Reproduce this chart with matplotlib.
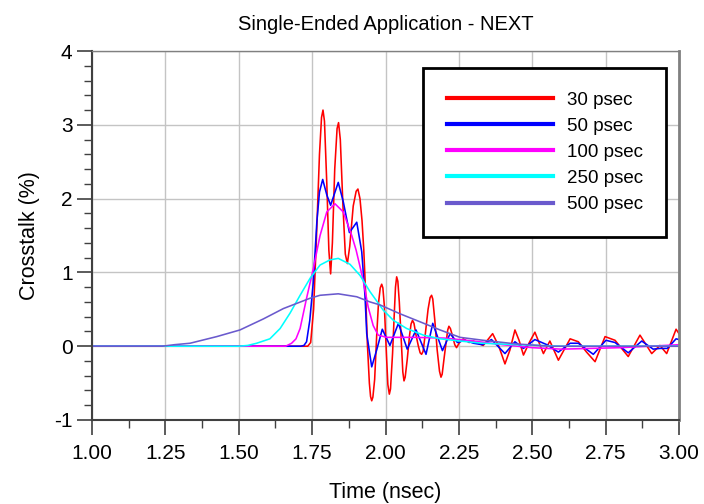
import matplotlib
matplotlib.use("Agg")
import matplotlib.pyplot as plt
from matplotlib.ticker import MultipleLocator

plt.rcParams['font.family'] = ['Liberation Sans', 'DejaVu Sans']
plt.rcParams['axes.unicode_minus'] = False

# crosstalk waveforms (time in nsec, crosstalk in %) for each rise time
t_30 = [1.00, 1.72, 1.735, 1.745, 1.755, 1.765, 1.775, 1.782, 1.787, 1.792, 1.800, 1.807,
        1.813, 1.819, 1.827, 1.835, 1.840, 1.846, 1.855, 1.863, 1.870, 1.878, 1.890, 1.900,
        1.906, 1.913, 1.920, 1.926, 1.932, 1.938, 1.945, 1.949, 1.953, 1.957, 1.963, 1.970,
        1.976, 1.982, 1.987, 1.991, 1.996, 2.003, 2.008, 2.013, 2.017, 2.024, 2.030, 2.034,
        2.038, 2.042, 2.047, 2.054, 2.059, 2.063, 2.067, 2.074, 2.082, 2.087, 2.092, 2.097,
        2.104, 2.112, 2.118, 2.123, 2.128, 2.136, 2.145, 2.152, 2.157, 2.161, 2.168, 2.176,
        2.184, 2.189, 2.193, 2.200, 2.208, 2.212, 2.216, 2.221, 2.229, 2.236, 2.242, 2.252,
        2.265, 2.285, 2.299, 2.333, 2.365, 2.386, 2.407, 2.424, 2.441, 2.455, 2.470, 2.490,
        2.509, 2.538, 2.560, 2.589, 2.629, 2.657, 2.685, 2.714, 2.748, 2.782, 2.827, 2.867,
        2.907, 2.935, 2.958, 2.990, 3.00]
x_30 = [0.00, 0.00, 0.00, 0.05, 0.50, 1.50, 2.60, 3.10, 3.20, 3.05, 2.20, 1.30,
        0.98, 1.40, 2.40, 2.95, 3.03, 2.80, 1.90, 1.25, 1.12, 1.35, 1.90, 2.10,
        2.13, 2.00, 1.70, 1.30, 0.75, 0.05, -0.50, -0.68, -0.74, -0.69, -0.45, 0.15,
        0.58, 0.79, 0.84, 0.79, 0.55, -0.10, -0.52, -0.65, -0.58, -0.10, 0.45, 0.80,
        0.94, 0.88, 0.60, 0.05, -0.35, -0.47, -0.42, -0.18, 0.15, 0.30, 0.35, 0.31,
        0.15, 0.00, -0.09, -0.11, -0.07, 0.18, 0.50, 0.66, 0.69, 0.64, 0.35, -0.05,
        -0.34, -0.42, -0.38, -0.15, 0.10, 0.22, 0.27, 0.24, 0.13, 0.02, -0.02, 0.05,
        0.10, 0.05, 0.07, 0.01, 0.17, 0.00, -0.24, -0.05, 0.22, 0.08, -0.12, 0.05,
        0.19, -0.10, 0.07, -0.19, 0.10, 0.06, -0.08, -0.21, 0.13, 0.08, -0.14, 0.15,
        -0.10, 0.01, -0.10, 0.23, 0.17]

t_50 = [1.00, 1.711, 1.722, 1.731, 1.742, 1.754, 1.766, 1.775, 1.786, 1.800, 1.813, 1.828,
        1.839, 1.856, 1.877, 1.902, 1.919, 1.930, 1.936, 1.953, 1.970, 1.989, 2.015, 2.044,
        2.074, 2.104, 2.138, 2.161, 2.194, 2.220, 2.245, 2.270, 2.300, 2.330, 2.361, 2.407,
        2.441, 2.470, 2.509, 2.550, 2.589, 2.629, 2.657, 2.708, 2.751, 2.782, 2.827, 2.873,
        2.912, 2.935, 2.960, 2.990, 3.00]
x_50 = [0.00, 0.00, 0.01, 0.06, 0.35, 0.87, 1.68, 2.09, 2.26, 2.05, 1.91, 2.09,
        2.22, 1.96, 1.54, 1.68, 1.28, 0.69, 0.17, -0.28, -0.05, 0.23, 0.01, 0.31,
        -0.04, 0.22, -0.11, 0.31, -0.06, 0.17, 0.05, 0.08, 0.04, 0.02, 0.09, -0.10,
        0.06, -0.03, 0.09, 0.02, -0.08, 0.04, 0.04, -0.11, 0.08, 0.05, -0.09, 0.07,
        -0.04, -0.03, -0.03, 0.10, 0.09]

t_100 = [1.00, 1.66, 1.680, 1.695, 1.709, 1.731, 1.754, 1.777, 1.800, 1.828, 1.856, 1.885,
         1.900, 1.913, 1.924, 1.941, 1.958, 1.975, 2.004, 2.10, 2.20, 2.30, 2.40, 2.50,
         2.60, 2.70, 2.80, 2.90, 3.00]
x_100 = [0.00, 0.00, 0.04, 0.10, 0.24, 0.65, 1.05, 1.50, 1.82, 1.93, 1.82, 1.50,
         1.30, 1.08, 0.89, 0.53, 0.28, 0.15, 0.12, 0.12, 0.11, 0.07, 0.02, -0.02,
         -0.04, -0.03, -0.02, 0.00, 0.02]

t_250 = [1.00, 1.50, 1.530, 1.561, 1.606, 1.641, 1.675, 1.709, 1.743, 1.777, 1.811, 1.839,
         1.879, 1.913, 1.947, 1.992, 2.027, 2.072, 2.129, 2.186, 2.254, 2.330, 2.450, 2.600,
         3.00]
x_250 = [0.00, 0.00, 0.01, 0.04, 0.10, 0.24, 0.45, 0.69, 0.92, 1.10, 1.17, 1.19,
         1.11, 0.96, 0.74, 0.49, 0.35, 0.24, 0.15, 0.10, 0.07, 0.04, 0.02, 0.00,
         0.00]

t_500 = [1.00, 1.24, 1.28, 1.334, 1.425, 1.504, 1.584, 1.652, 1.743, 1.777, 1.839, 1.902,
         1.947, 1.981, 2.049, 2.118, 2.186, 2.254, 2.333, 2.447, 2.560, 3.00]
x_500 = [0.00, 0.00, 0.02, 0.04, 0.13, 0.22, 0.37, 0.51, 0.65, 0.69, 0.71, 0.67,
         0.60, 0.56, 0.44, 0.33, 0.22, 0.12, 0.08, 0.03, 0.00, 0.00]

labels = ['30 psec', '50 psec', '100 psec', '250 psec', '500 psec']
colors = ['#ff0000', '#0000ff', '#ff00ff', '#00ffff', '#6a5acd']

fig = plt.figure(figsize=(7.04, 5.04), dpi=100)
ax = fig.add_axes([0.1307, 0.1667, 0.8338, 0.732])

series = [(t_30, x_30), (t_50, x_50), (t_100, x_100), (t_250, x_250), (t_500, x_500)]
for (t, x), lab, c in zip(series, labels, colors):
    ax.plot(t, x, color=c, lw=1.15, label=lab)

ax.set_xlim(1.0, 3.0)
ax.set_ylim(-1, 4)
ax.xaxis.set_major_locator(MultipleLocator(0.25))
ax.xaxis.set_minor_locator(MultipleLocator(0.125))
ax.yaxis.set_major_locator(MultipleLocator(1))
ax.yaxis.set_minor_locator(MultipleLocator(0.2))
ax.xaxis.set_major_formatter(plt.FormatStrFormatter('%.2f'))
ax.grid(True, which='major', color='#c4c4c4', lw=1.0)
ax.set_axisbelow(True)

ax.tick_params(which='both', direction='out', color='#404040', labelsize=15)
ax.tick_params(axis='x', pad=6)
ax.tick_params(axis='y', pad=3)
ax.tick_params(which='major', length=11, width=1.2)
ax.tick_params(which='minor', length=6, width=1.0)

ax.spines['left'].set_color('#404040')
ax.spines['bottom'].set_color('#404040')
ax.spines['left'].set_linewidth(1.5)
ax.spines['bottom'].set_linewidth(1.5)
ax.spines['top'].set_color('#808080')
ax.spines['top'].set_linewidth(1.0)
ax.spines['right'].set_color('#808080')
ax.spines['right'].set_linewidth(2.0)

ax.set_title('Single-Ended Application - NEXT', fontsize=14.5, pad=15)
ax.set_xlabel('Time (nsec)', fontsize=15.5, labelpad=14)
ax.set_ylabel('Crosstalk (%)', fontsize=15.5, labelpad=10)

leg = ax.legend(loc='upper left', bbox_to_anchor=(0.564, 0.954), borderaxespad=0,
                fontsize=13.5, handlelength=5.7, handletextpad=0.7, labelspacing=0.48,
                borderpad=1.25, fancybox=False, framealpha=1, edgecolor='black')
leg.get_frame().set_linewidth(2.0)
for line in leg.get_lines():
    line.set_linewidth(3.0)

fig.savefig('out.png', dpi=100)
